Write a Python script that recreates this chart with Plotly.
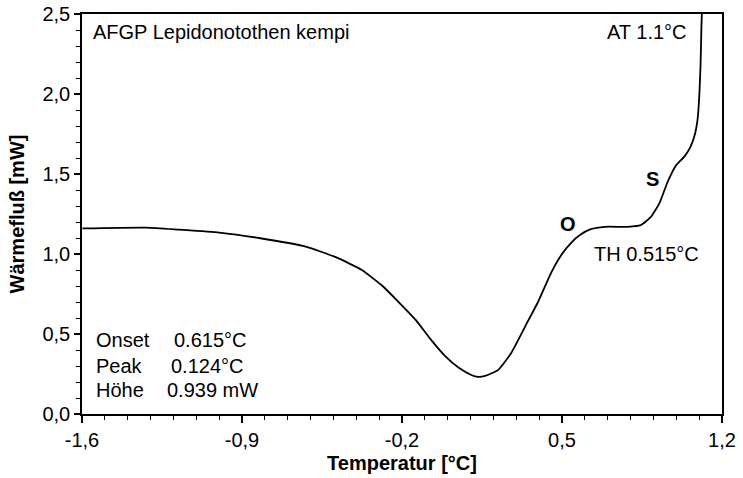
import plotly.graph_objects as go

# DSC-Kurve
temperatur = [-1.598, -1.319, -1.175, -1.0, -0.826, -0.621, -0.49, -0.376, -0.285,
              -0.215, -0.141, -0.071, -0.010, 0.047, 0.103, 0.133, 0.164, 0.221, 0.277,
              0.338, 0.395, 0.455, 0.500, 0.540, 0.580, 0.626, 0.687, 0.788, 0.844, 0.888,
              0.927, 0.962, 0.997, 1.036, 1.062, 1.080, 1.093, 1.100, 1.106, 1.110, 1.113]
waermefluss = [1.16, 1.165, 1.152, 1.134, 1.10, 1.046, 0.98, 0.90, 0.80,
               0.70, 0.59, 0.46, 0.36, 0.29, 0.244, 0.232, 0.238, 0.276, 0.38,
               0.545, 0.70, 0.89, 1.00, 1.07, 1.12, 1.155, 1.17, 1.17, 1.18, 1.23,
               1.32, 1.45, 1.55, 1.61, 1.67, 1.74, 1.84, 1.97, 2.17, 2.42, 2.55]

x_ticks = [-1.6, -0.9, -0.2, 0.5, 1.2]
x_ticktext = ["-1,6", "-0,9", "-0,2", "0,5", "1,2"]
y_ticks = [0.0, 0.5, 1.0, 1.5, 2.0, 2.5]
y_ticktext = ["0,0", "0,5", "1,0", "1,5", "2,0", "2,5"]

schrift = "Liberation Sans, Arial, sans-serif"

fig = go.Figure(go.Scatter(x=temperatur, y=waermefluss, mode="lines",
                           line=dict(color="black", width=1.8, shape="spline", smoothing=0.5),
                           showlegend=False, hoverinfo="skip"))

fig.update_layout(
    width=743, height=478,
    margin=dict(l=82, r=21, t=14, b=64, autoexpand=False),
    plot_bgcolor="white", paper_bgcolor="white",
    font=dict(family=schrift, size=20, color="black"),
)

fig.update_xaxes(
    range=[-1.6, 1.2], tickvals=x_ticks, ticktext=x_ticktext, automargin=False,
    showgrid=False, zeroline=False, showline=True, linecolor="black", linewidth=1.5,
    mirror=True, ticks="outside", ticklen=7, tickwidth=1.5, tickcolor="black",
    minor=dict(dtick=0.1, tick0=-1.6, ticks="outside", ticklen=4, tickwidth=1.2, tickcolor="black"),
    tickfont=dict(size=20),
    title=dict(text="<b>Temperatur [°C]</b>", font=dict(size=20), standoff=6),
)
fig.update_yaxes(
    range=[0, 2.5], tickvals=y_ticks, ticktext=y_ticktext, automargin=False,
    ticklabeloverflow="allow",
    showgrid=False, zeroline=False, showline=True, linecolor="black", linewidth=1.5,
    mirror=True, ticks="outside", ticklen=6, tickwidth=1.5, tickcolor="black",
    minor=dict(dtick=0.1, ticks="outside", ticklen=4, tickwidth=1.2, tickcolor="black"),
    tickfont=dict(size=20),
    title=dict(text="<b>Wärmefluß [mW]</b>", font=dict(size=20), standoff=12),
)

def txt(x, y, s, anchor="left", size=20):
    fig.add_annotation(x=x, y=y, xref="x", yref="y", text=s, showarrow=False,
                       xanchor=anchor, yanchor="middle", font=dict(size=size))

txt(-1.562, 2.39, "AFGP Lepidonotothen kempi")
txt(1.055, 2.39, "AT 1.1°C", anchor="right")
txt(0.526, 1.19, "<b>O</b>", anchor="center")
txt(0.897, 1.47, "<b>S</b>", anchor="center")
txt(1.108, 1.0, "TH 0.515°C", anchor="right")
txt(-1.547, 0.465, "Onset")
txt(-1.547, 0.30, "Peak")
txt(-1.547, 0.15, "Höhe")
txt(-1.205, 0.465, "0.615°C")
txt(-1.218, 0.30, "0.124°C")
txt(-1.235, 0.15, "0.939 mW")

# Browser-Standardrand der Seite entfernen, keine Modebar
fig.write_html("out.html", config={"displayModeBar": False},
               post_script="document.body.style.margin='0';")
